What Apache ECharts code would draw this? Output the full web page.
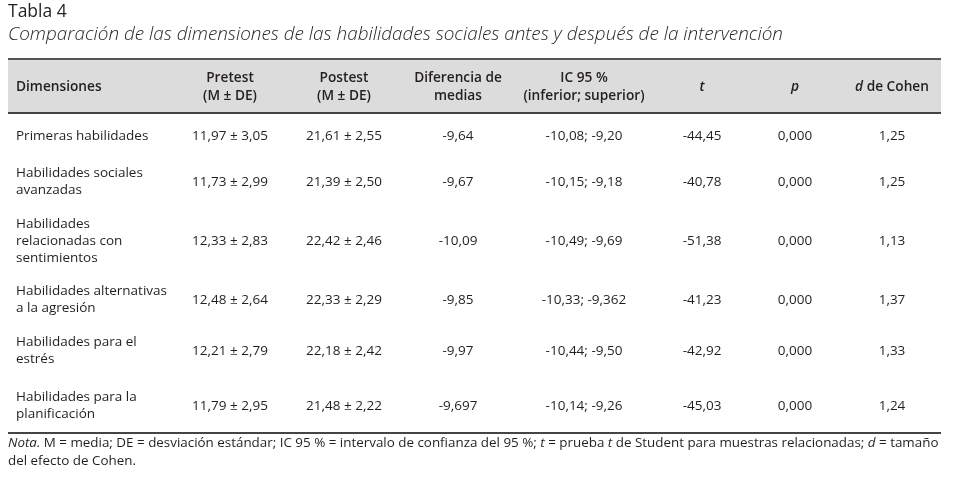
<!DOCTYPE html>
<html style="height: 100%">
<head>
<meta charset="UTF-8">
<title>Tabla 4</title>
<script src="https://cdn.jsdelivr.net/npm/echarts@6/dist/echarts.min.js"></script>
</head>
<body style="height: 100%; margin: 0; background: #fff">
<div id="main" style="width: 959px; height: 479px"></div>
<script type="text/javascript">
// table data
var dimensiones = [
	'Primeras habilidades',
	'Habilidades sociales\navanzadas',
	'Habilidades\nrelacionadas con\nsentimientos',
	'Habilidades alternativas\na la agresión',
	'Habilidades para el\nestrés',
	'Habilidades para la\nplanificación'
];
var pretest = ['11,97 ± 3,05', '11,73 ± 2,99', '12,33 ± 2,83', '12,48 ± 2,64', '12,21 ± 2,79', '11,79 ± 2,95'];
var postest = ['21,61 ± 2,55', '21,39 ± 2,50', '22,42 ± 2,46', '22,33 ± 2,29', '22,18 ± 2,42', '21,48 ± 2,22'];
var diferencia = ['-9,64', '-9,67', '-10,09', '-9,85', '-9,97', '-9,697'];
var ic95 = ['-10,08; -9,20', '-10,15; -9,18', '-10,49; -9,69', '-10,33; -9,362', '-10,44; -9,50', '-10,14; -9,26'];
var tValues = ['-44,45', '-40,78', '-51,38', '-41,23', '-42,92', '-45,03'];
var pValues = ['0,000', '0,000', '0,000', '0,000', '0,000', '0,000'];
var dCohen = ['1,25', '1,25', '1,13', '1,37', '1,33', '1,24'];

// layout
var colX = [16, 230, 344, 458, 584, 702, 795, 892];
var rowY = [135, 181, 240, 299, 350, 405];
var tableLeft = 8, tableRight = 941;
var font = '"Open Sans", sans-serif';
var ink = '#231f20';

var g = [];

// title
g.push({type: 'text', left: 8, top: 3, style: {text: 'Tabla 4', font: '500 17.5px ' + font, fill: ink}});
g.push({type: 'text', left: 8, top: 25, style: {text: 'Comparación de las dimensiones de las habilidades sociales antes y después de la intervención', font: 'italic 300 18.9px ' + font, fill: ink}});

// header band
g.push({type: 'rect', shape: {x: tableLeft, y: 59, width: tableRight - tableLeft, height: 54}, style: {fill: '#dcdcdc'}});
g.push({type: 'rect', shape: {x: tableLeft, y: 58, width: tableRight - tableLeft, height: 2}, style: {fill: '#555'}});
g.push({type: 'rect', shape: {x: tableLeft, y: 112, width: tableRight - tableLeft, height: 2}, style: {fill: '#444'}});
g.push({type: 'rect', shape: {x: tableLeft, y: 432, width: tableRight - tableLeft, height: 2}, style: {fill: '#444'}});

var headers = [
	'Dimensiones',
	'Pretest\n(M ± DE)',
	'Postest\n(M ± DE)',
	'Diferencia de\nmedias',
	'IC 95 %\n(inferior; superior)',
	'{i|t}',
	'{i|p}',
	'{i|d} de Cohen'
];
var headFont = '600 13.7px ' + font;
for (var c = 0; c < headers.length; c++) {
	g.push({
		type: 'text',
		x: colX[c], y: 87,
		style: {
			text: headers[c],
			font: headFont,
			fill: ink,
			align: c == 0 ? 'left' : 'center',
			verticalAlign: 'middle',
			lineHeight: 18,
			rich: {i: {font: 'italic 600 13.7px ' + font, fill: ink}}
		}
	});
}

var cols = [dimensiones, pretest, postest, diferencia, ic95, tValues, pValues, dCohen];
for (var r = 0; r < rowY.length; r++) {
	for (var c = 0; c < cols.length; c++) {
		g.push({
			type: 'text',
			x: colX[c], y: rowY[r] + 1,
			style: {
				text: cols[c][r],
				font: '13.5px ' + font,
				fill: ink,
				align: c == 0 ? 'left' : 'center',
				verticalAlign: 'middle',
				lineHeight: 17
			}
		});
	}
}

// note
g.push({
	type: 'text', left: 8, top: 434,
	style: {
		text: '{i|Nota.} M = media; DE = desviación estándar; IC 95 % = intervalo de confianza del 95 %; {i|t} = prueba {i|t} de Student para muestras relacionadas; {i|d} = tamaño\ndel efecto de Cohen.',
		font: '13.4px ' + font,
		fill: ink,
		lineHeight: 18,
		rich: {i: {font: 'italic 13.4px ' + font, fill: ink}}
	}
});

var myChart = echarts.init(document.getElementById('main'));
var option = {
	animation: false,
	graphic: g
};
myChart.setOption(option);
</script>
</body>
</html>
